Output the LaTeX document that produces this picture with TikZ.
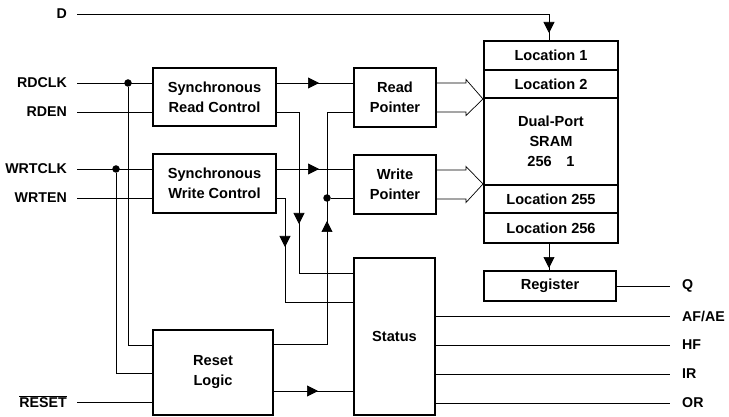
\documentclass[tikz,border=0pt]{standalone}
\usepackage{fontspec}
\setmainfont{Liberation Sans}
\usetikzlibrary{arrows.meta,decorations.markings,calc}
\begin{document}
\begin{tikzpicture}[x=1pt,y=-1pt,
  blk/.style={draw, line width=2pt, font=\fontsize{14.6}{20}\selectfont\bfseries, align=center, inner sep=0pt},
  wire/.style={line width=0.7pt},
  lbl/.style={font=\fontsize{14.2}{16}\selectfont\bfseries, inner sep=0pt},
  arrowat/.style={postaction={decorate}, decoration={markings,
      mark=at position #1 with {\arrow{Triangle[length=11pt,width=11pt]}}}},
  dot/.style={circle, fill, inner sep=0pt, minimum size=7.5pt}]
\useasboundingbox (0,0) rectangle (729,417);

% control and pointer blocks
\node[blk, minimum width=123pt, minimum height=58pt] (src) at (214.5,97) {Synchronous\\Read Control};
\node[blk, minimum width=123pt, minimum height=59pt] (swc) at (214.5,183.5) {Synchronous\\Write Control};
\node[blk, minimum width=82pt, minimum height=59pt] (rp) at (395,97.5) {Read\\Pointer};
\node[blk, minimum width=82pt, minimum height=59pt] (wp) at (395,184.5) {Write\\Pointer};

% memory array
\node[blk, minimum width=134pt, minimum height=29pt] (l1) at (551,55.5) {Location 1};
\node[blk, minimum width=134pt, minimum height=28pt] (l2) at (551,84) {Location 2};
\node[blk, minimum width=134pt, minimum height=87pt] (dual) at (551,141.5) {Dual-Port\\SRAM\\256\quad 1};
\node[blk, minimum width=134pt, minimum height=28pt] (l255) at (551,199) {Location 255};
\node[blk, minimum width=134pt, minimum height=30pt] (l256) at (551,228) {Location 256};
\node[blk, minimum width=132pt, minimum height=30pt] (reg) at (550,286) {Register};

% status and reset
\node[blk, minimum width=81pt, minimum height=157pt] (status) at (394.5,336.5) {Status};
\node[blk, minimum width=120pt, minimum height=85pt] (reset) at (213,372.5) {Reset\\Logic};

% pin labels
\node[lbl, anchor=east] (D) at (67,14) {D};
\node[lbl, anchor=east] (rdclk) at (67,83) {RDCLK};
\node[lbl, anchor=east] (rden) at (67,112) {RDEN};
\node[lbl, anchor=east] (wrtclk) at (67,169) {WRTCLK};
\node[lbl, anchor=east] (wrten) at (67,198) {WRTEN};
\node[lbl, anchor=east] (rst) at (67,402) {$\overline{\hbox{RESET}}$};
\node[lbl, anchor=west] (Q) at (682,286) {Q};
\node[lbl, anchor=west] (afae) at (682,316) {AF/AE};
\node[lbl, anchor=west] (hf) at (682,345) {HF};
\node[lbl, anchor=west] (ir) at (682,374) {IR};
\node[lbl, anchor=west] (or) at (682,403) {OR};

% junctions
\node[dot] (ja) at (128,83) {};
\node[dot] (jb) at (116,169) {};
\node[dot] (jc) at (327,198) {};

% data input
\draw[wire, arrowat=491pt] ([xshift=10pt]D.east) -| (l1.north -| 549,0);

% inputs to control blocks
\draw[wire] ([xshift=10pt]rdclk.east) -- (rdclk.east -| src.west);
\draw[wire] ([xshift=10pt]rden.east) -- (rden.east -| src.west);
\draw[wire] ([xshift=10pt]wrtclk.east) -- (wrtclk.east -| swc.west);
\draw[wire] ([xshift=10pt]wrten.east) -- (wrten.east -| swc.west);
\draw[wire] ([xshift=10pt]rst.east) -- (rst.east -| reset.west);

% clocks to reset logic
\draw[wire] (ja) |- (reset.west |- 0,345);
\draw[wire] (jb) |- (reset.west |- 0,373);

% control to pointers
\draw[wire, arrowat=42pt] (src.east |- 0,83) -- (rp.west |- 0,83);
\draw[wire, arrowat=42pt] (swc.east |- 0,169) -- (wp.west |- 0,169);

% control to status
\draw[wire, arrowat=134pt] (src.east |- 0,112) -- (299,112) -- (299,273) -- (status.west |- 0,273);
\draw[wire, arrowat=57pt] (swc.east |- 0,198) -- (285,198) -- (285,302) -- (status.west |- 0,302);

% reset to pointers and status
\draw[wire, arrowat=176pt] (reset.east |- 0,344) -- (327,344) -- (327,112) -- (rp.west |- 0,112);
\draw[wire] (jc) -- (wp.west |- jc);
\draw[wire, arrowat=44pt] (reset.east |- 0,391) -- (status.west |- 0,391);

% status flags
\draw[wire] (status.east |- afae.west) -- ([xshift=-12pt]afae.west);
\draw[wire] (status.east |- hf.west) -- ([xshift=-12pt]hf.west);
\draw[wire] (status.east |- ir.west) -- ([xshift=-12pt]ir.west);
\draw[wire] (status.east |- or.west) -- ([xshift=-12pt]or.west);

% memory output
\draw[wire, arrowat=24pt] (l256.south -| 549,0) -- (reg.north -| 549,0);
\draw[wire] (reg.east) -- ([xshift=-12pt]Q.west);

% address buses into the array
\draw[wire, line join=miter] ($(rp.east)+(0,-14.5)$) -- ($(rp.east)+(29,-14.5)$) -- ($(rp.east)+(29,-18)$)
  -- (l2.south west) -- ($(rp.east)+(29,18)$) -- ($(rp.east)+(29,14.5)$) -- ($(rp.east)+(0,14.5)$);
\draw[wire, line join=miter] ($(wp.east)+(0,-14.5)$) -- ($(wp.east)+(29,-14.5)$) -- ($(wp.east)+(29,-18)$)
  -- (l255.north west) -- ($(wp.east)+(29,18)$) -- ($(wp.east)+(29,14.5)$) -- ($(wp.east)+(0,14.5)$);
\end{tikzpicture}
\end{document}
